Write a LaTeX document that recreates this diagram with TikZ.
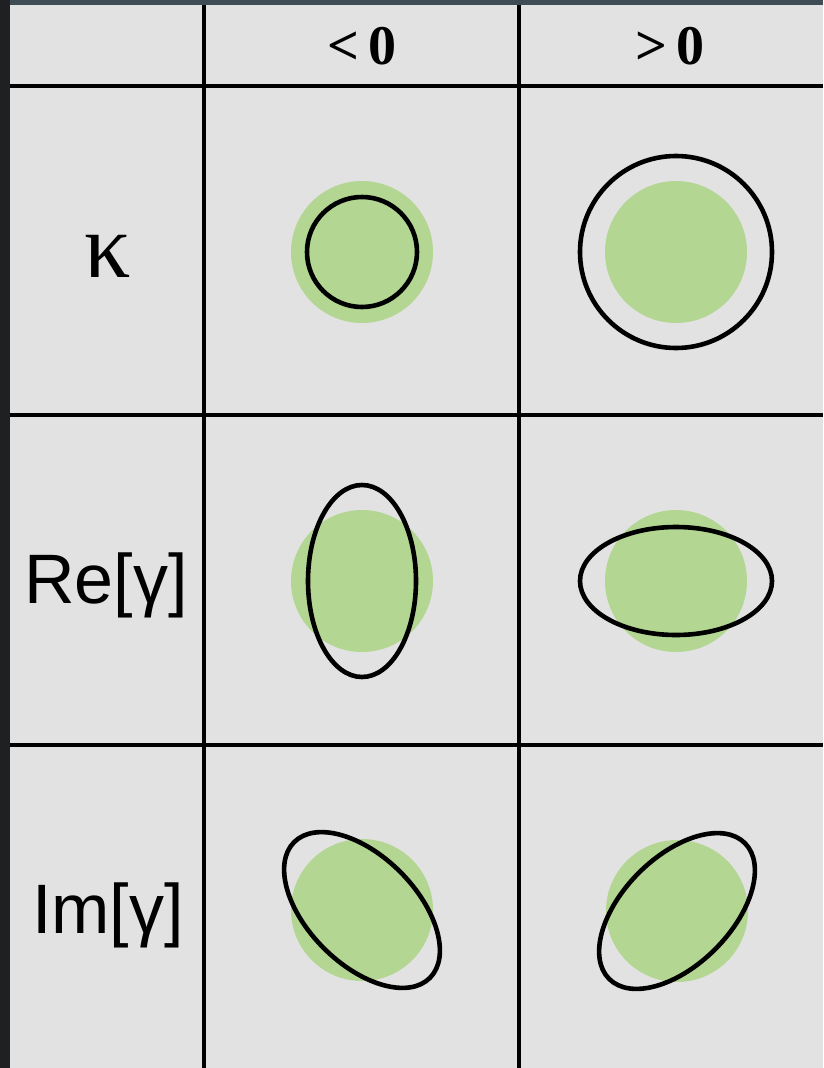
\documentclass[tikz,border=0pt]{standalone}
\usepackage{fontspec}
\setmainfont{Liberation Serif}
\setsansfont{Liberation Sans}
\definecolor{darkbg}{HTML}{1F2022}
\definecolor{topband}{HTML}{3E4D55}
\definecolor{panel}{HTML}{E2E2E2}
\definecolor{blob}{HTML}{B3D692}
\tikzset{
  gridline/.style={line width=3.4pt, black},
  headline/.style={line width=4pt, black},
  blobfill/.style={fill=blob, draw=none},
  outline/.style={draw=black, line width=4.6pt},
  headtext/.style={font=\fontsize{56}{60}\selectfont\bfseries\rmfamily, inner sep=0pt},
  rowtext/.style={font=\fontsize{70}{80}\selectfont\sffamily, inner sep=0pt, anchor=base},
}
\begin{document}
\begin{tikzpicture}[x=1pt, y=-1pt]
\useasboundingbox (0,0) rectangle (823,1068);
\fill[darkbg] (0,0) rectangle (823,1068);
\fill[topband] (10,0) rectangle (823,6);
\fill[panel] (10,5) rectangle (823,1068);
% grid
\draw[headline] (10,86) -- (823,86);
\draw[gridline] (10,415) -- (823,415);
\draw[gridline] (10,745) -- (823,745);
\draw[gridline] (204,5) -- (204,1068);
\draw[gridline] (519,5) -- (519,1068);
% headers
\node[headtext] (hneg) at (362,46) {<\,0};
\node[headtext] (hpos) at (670,46) {>\,0};
% row labels
\node[font=\fontsize{92}{100}\selectfont\rmfamily, inner sep=0pt, anchor=base] (kappa) at (108,277) {κ};
\node[rowtext] (re) at (106,603) {Re[γ]};
\node[rowtext] (im) at (108,933) {Im[γ]};
% row 1
\fill[blobfill] (362,252) circle[radius=71pt];
\draw[outline] (362,252) circle[radius=55pt];
\fill[blobfill] (676,252) circle[radius=71pt];
\draw[outline] (676,252) circle[radius=96pt];
% row 2
\fill[blobfill] (362,581) circle[radius=71pt];
\draw[outline] (362,581) ellipse[x radius=54pt, y radius=96pt];
\fill[blobfill] (676,581) circle[radius=71pt];
\draw[outline] (676,581) ellipse[x radius=96pt, y radius=54pt];
% row 3
\fill[blobfill] (362,910) circle[radius=71pt];
\draw[outline, rotate around={-45:(362,910)}] (362,910) ellipse[x radius=96pt, y radius=54pt];
\fill[blobfill] (677,911) circle[radius=71pt];
\draw[outline, rotate around={45:(677,911)}] (677,911) ellipse[x radius=96pt, y radius=54pt];
\end{tikzpicture}
\end{document}
